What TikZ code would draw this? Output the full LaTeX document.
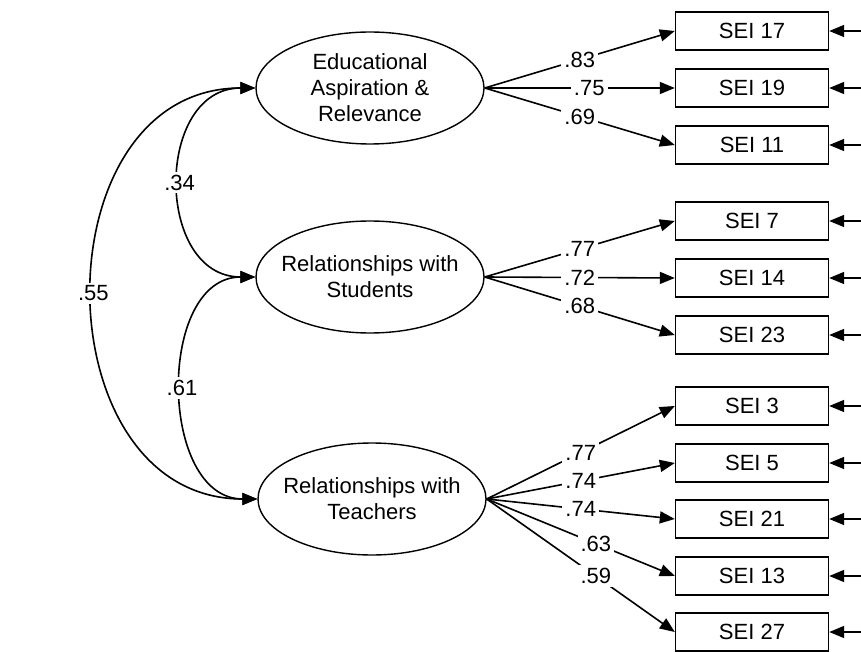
\documentclass[tikz,border=0pt]{standalone}
\usepackage{fontspec}
\setmainfont{Liberation Sans}
\usetikzlibrary{shapes.geometric,arrows.meta}
\begin{document}
\begin{tikzpicture}[x=0.5pt,y=-0.5pt,
  font=\fontsize{11}{13}\selectfont,
  tip/.style={-{Triangle[length=7.5pt,width=6pt]}},
  latent/.style={draw,ellipse,line width=0.7pt,minimum width=114pt,minimum height=56pt,inner xsep=-8pt,inner ysep=0pt,align=center},
  indicator/.style={draw,rectangle,line width=0.7pt,minimum width=76.5pt,minimum height=19pt,inner sep=0pt},
  onearrow/.style={tip,line width=0.8pt},
  corr/.style={{Triangle[length=7.5pt,width=6pt]}-{Triangle[length=7.5pt,width=6pt]},line width=0.8pt},
  coef/.style={fill=white,inner sep=1.5pt}]
  \useasboundingbox (0,0) rectangle (861,652);
  % latent factors
  \node[latent] (edu) at (370,88) {Educational\\Aspiration \&\\Relevance};
  \node[latent] (stu) at (370,277) {Relationships with\\Students};
  \node[latent] (tea) at (372,499) {Relationships with\\Teachers};
  % items and their error terms
  \foreach \n/\y in {17/31,19/88,11/145,7/221,14/278,23/335,3/406,5/463,21/519,13/576,27/632} {
    \node[indicator] (sei\n) at (752,\y) {SEI \n};
    \coordinate (err\n) at (861,\y);
    \draw[onearrow] (err\n) -- (sei\n);
  }
  % loadings
  \foreach \lat/\n/\v/\p in {edu/17/.83/0.5, edu/19/.75/0.55, edu/11/.69/0.5,
      stu/7/.77/0.5, stu/14/.72/0.5, stu/23/.68/0.5,
      tea/3/.77/0.5, tea/5/.74/0.5, tea/21/.74/0.5, tea/13/.63/0.58, tea/27/.59/0.58}
    \draw[onearrow] (\lat.east) -- node[coef,pos=\p] {\v} (sei\n.west);
  % correlations
  \draw[corr] (edu.west) to[out=180,in=180,looseness=1.37] node[coef] {.34} (stu.west);
  \draw[corr] (stu.west) to[out=180,in=180,looseness=1.14] node[coef] {.61} (tea.west);
  \draw[corr] (edu.west) to[out=180,in=180,looseness=1.35] node[coef] {.55} (tea.west);
\end{tikzpicture}
\end{document}
